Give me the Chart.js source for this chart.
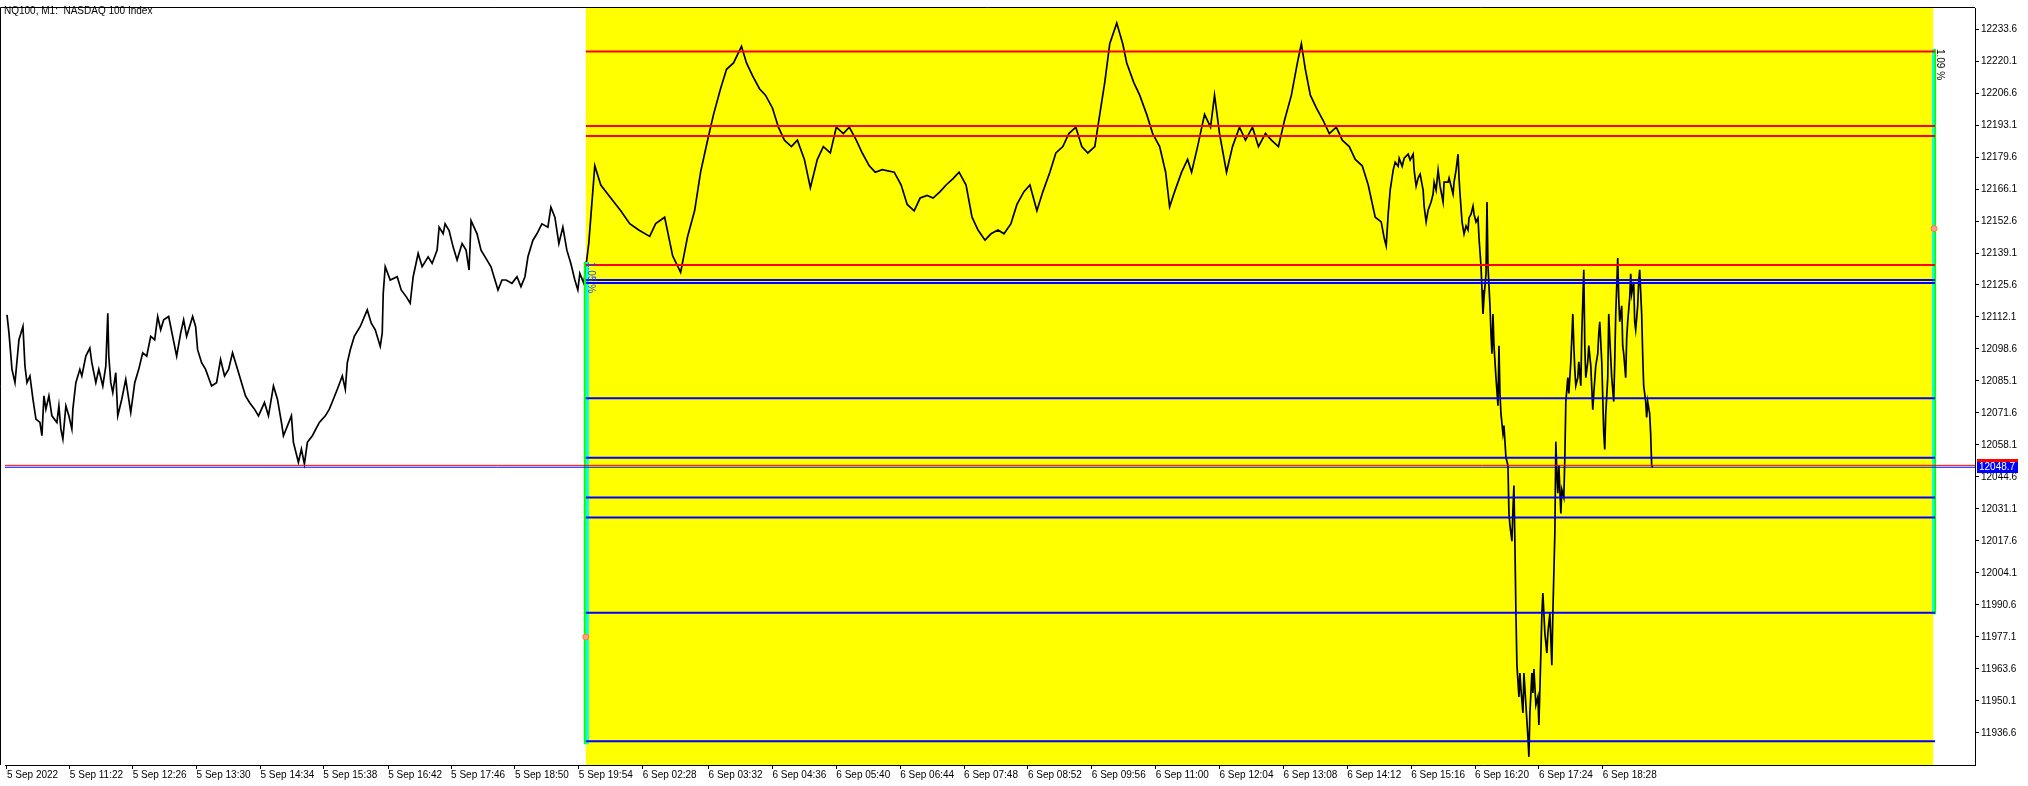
<!DOCTYPE html>
<html>
<head>
<meta charset="utf-8">
<script src="https://cdn.jsdelivr.net/npm/chart.js@4.4.1/dist/chart.umd.min.js"></script>
<style>
  body { margin: 0; background: #fff; }
  #wrap { width: 2028px; height: 786px; position: relative; }
</style>
</head>
<body>
<div id="wrap"><canvas id="chart"></canvas></div>
<script>
'use strict';

// Chart data

let symbolTitle = 'NQ100, M1:  NASDAQ 100 Index';

// bar index (1 bar = 1 minute) and close price
let priceBars = [
  3, 5, 8, 11, 15, 19, 21, 23, 26, 29, 32, 36, 38, 40, 42, 45, 48, 53, 55, 57,
  59, 62, 65, 68, 69, 72, 76, 78, 82, 86, 88, 92, 95, 99, 102, 104, 105, 107, 109, 112,
  114, 118, 122, 127, 131, 135, 139, 143, 147, 151, 154, 157, 160, 165, 169, 173, 177, 180, 183, 189,
  192, 194, 198, 202, 208, 213, 217, 221, 225, 229, 234, 239, 242, 246, 251, 255, 261, 265, 270, 274,
  278, 280, 288, 290, 295, 298, 301, 304, 309, 316, 322, 326, 330, 334, 339, 342, 344, 347, 351, 357,
  364, 368, 372, 377, 379, 380, 382, 387, 394, 398, 403, 407, 410, 415, 419, 425, 429, 434, 436, 440,
  442, 446, 450, 454, 459, 463, 466, 468, 474, 478, 484, 488, 490, 495, 499, 503, 509, 514, 518, 522,
  525, 530, 534, 539, 545, 548, 552, 556, 560, 564, 568, 572, 575, 577, 581,
  586, 592, 598, 608, 618, 627, 636, 647, 653, 662, 670, 678, 685, 692, 698, 705, 711, 718, 724, 731,
  739, 744, 750, 757, 763, 770, 776, 782, 789, 795, 802, 808, 815, 821, 828, 834, 841, 847, 854, 860,
  867, 873, 880, 892, 899, 905, 912, 918, 925, 931, 938, 944, 951, 957, 964, 970, 976, 983, 989, 996,
  1002, 1009, 1015, 1022, 1028, 1035, 1041, 1048, 1054, 1061, 1067, 1074, 1080, 1086, 1093, 1099, 1103, 1108, 1115, 1121,
  1125, 1132, 1138, 1145, 1151, 1158, 1164, 1168, 1173, 1180, 1186, 1190, 1196, 1203, 1209, 1213, 1218, 1225, 1231, 1238,
  1244, 1251, 1257, 1264, 1270, 1277, 1283, 1290, 1296, 1300, 1304, 1309, 1315, 1322, 1328, 1335, 1341, 1348, 1354, 1361,
  1367, 1374,
  1380, 1383, 1385, 1387, 1389, 1392, 1394, 1397, 1398, 1401, 1403, 1407, 1409, 1412, 1413, 1415, 1417, 1419, 1422, 1423,
  1425, 1427, 1430, 1432, 1433, 1435, 1437, 1439, 1442, 1443, 1447, 1448, 1452, 1453, 1455, 1457, 1458, 1459, 1461, 1463,
  1465, 1467, 1468, 1470, 1472, 1473, 1475, 1477, 1478, 1480, 1481, 1482, 1483, 1485, 1486, 1487, 1488, 1489, 1490, 1491,
  1492, 1493, 1495, 1497, 1498, 1499, 1500, 1502, 1503, 1505, 1507, 1508, 1509, 1511, 1512, 1513, 1514, 1515, 1516, 1518,
  1519, 1520, 1522, 1523, 1525, 1527, 1528, 1529, 1531, 1532, 1533, 1535, 1537, 1538, 1539, 1540, 1541, 1542, 1544, 1546,
  1547, 1549, 1551, 1552, 1553, 1554, 1555, 1556, 1557, 1558, 1560, 1561, 1563, 1564, 1565, 1567, 1568, 1570, 1572, 1573,
  1574, 1575, 1577, 1578, 1580, 1581, 1583, 1584, 1585, 1587, 1588, 1590, 1592, 1593, 1595, 1597, 1598, 1599, 1601, 1603,
  1604, 1605, 1607, 1608, 1609, 1611, 1613, 1614, 1615, 1617, 1618, 1619, 1621, 1622, 1623, 1625, 1626, 1627, 1629, 1630,
  1631, 1633, 1634, 1635, 1637, 1638, 1639, 1641, 1642, 1643, 1645, 1646, 1647, 1649, 1650, 1651, 1652
];

let priceClose = [
  12113.0, 12105.3, 12090.0, 12084.4, 12102.5, 12108.1, 12091.4, 12084.4, 12087.2, 12077.4, 12069.0, 12067.6, 12062.0, 12078.8, 12073.2, 12078.8, 12070.4, 12067.6, 12074.6, 12064.8,
  12060.6, 12074.6, 12070.4, 12064.8, 12073.2, 12084.4, 12090.0, 12087.2, 12095.6, 12099.0, 12092.8, 12084.4, 12090.0, 12083.0, 12091.4, 12113.7, 12095.6, 12084.4, 12080.2, 12088.6,
  12070.4, 12077.4, 12085.8, 12071.8, 12084.4, 12090.0, 12097.0, 12095.6, 12103.9, 12102.5, 12112.3, 12106.7, 12110.9, 12112.3, 12103.9, 12095.6, 12105.3, 12110.9, 12103.9, 12112.3,
  12108.1, 12098.3, 12092.8, 12090.0, 12083.0, 12084.4, 12094.2, 12087.2, 12090.0, 12097.0, 12090.0, 12083.0, 12078.8, 12076.0, 12073.2, 12070.4, 12076.0, 12070.4, 12083.0, 12077.4,
  12067.6, 12062.0, 12070.4, 12059.2, 12050.8, 12056.4, 12050.1, 12059.2, 12062.0, 12067.6, 12070.4, 12073.2, 12077.4, 12081.6, 12087.2, 12081.6, 12092.8, 12098.3, 12103.9, 12108.1,
  12115.1, 12109.5, 12106.7, 12099.7, 12105.3, 12122.1, 12133.3, 12127.7, 12129.1, 12123.5, 12120.7, 12117.9, 12129.1, 12138.9, 12133.3, 12137.5, 12134.7, 12140.3, 12150.0, 12147.2,
  12151.4, 12148.6, 12141.7, 12136.1, 12143.1, 12140.3, 12131.9, 12152.8, 12147.2, 12140.3, 12136.1, 12133.3, 12130.5, 12123.5, 12127.7, 12127.7, 12126.3, 12129.1, 12124.9, 12129.1,
  12137.5, 12144.5, 12147.2, 12151.4, 12150.0, 12158.4, 12154.2, 12143.1, 12150.0, 12140.3, 12134.7, 12127.7, 12123.5, 12130.5, 12126.3,
  12143.4, 12175.9, 12167.8, 12162.3, 12156.9, 12151.5, 12148.8, 12146.1, 12151.5, 12154.2, 12137.9, 12130.9, 12146.1, 12156.9, 12173.2, 12186.7, 12197.6, 12208.4, 12216.6, 12219.3,
  12226.3, 12219.3, 12213.9, 12208.4, 12205.7, 12200.3, 12192.2, 12186.7, 12184.0, 12186.7, 12178.6, 12166.7, 12178.6, 12184.0, 12181.3, 12192.2, 12189.5, 12192.2, 12186.7, 12181.3,
  12175.9, 12173.2, 12174.3, 12173.2, 12167.8, 12159.6, 12156.9, 12162.3, 12163.4, 12162.3, 12165.0, 12167.8, 12170.5, 12173.2, 12167.8, 12154.2, 12148.8, 12144.5, 12147.2, 12148.8,
  12147.2, 12151.5, 12159.6, 12165.0, 12167.8, 12156.9, 12165.0, 12173.2, 12181.3, 12184.0, 12189.5, 12192.2, 12184.0, 12181.3, 12184.0, 12200.3, 12211.1, 12227.4, 12236.1, 12227.4,
  12219.3, 12211.1, 12205.7, 12197.6, 12189.5, 12184.0, 12173.2, 12158.6, 12165.0, 12173.2, 12178.6, 12173.2, 12184.0, 12197.6, 12192.2, 12205.7, 12189.5, 12173.2, 12184.0, 12192.2,
  12186.7, 12192.2, 12184.0, 12189.5, 12186.7, 12184.0, 12194.9, 12205.7, 12219.3, 12227.4, 12216.6, 12205.7, 12200.3, 12194.9, 12189.5, 12192.2, 12186.7, 12184.0, 12178.6, 12175.9,
  12167.8, 12154.2,
  12152.2, 12145.4, 12142.1, 12155.5, 12165.6, 12174.1, 12177.4, 12175.7, 12179.1, 12175.7, 12179.1, 12180.8, 12178.3, 12180.8, 12174.1, 12167.3, 12170.7, 12172.4, 12165.6, 12158.9,
  12152.2, 12157.2, 12160.6, 12164.0, 12169.0, 12165.6, 12174.1, 12167.3, 12160.6, 12169.0, 12169.0, 12170.7, 12164.0, 12169.0, 12174.1, 12180.8, 12170.7, 12164.0, 12152.2, 12147.1,
  12150.5, 12148.8, 12153.9, 12155.5, 12158.9, 12155.5, 12152.2, 12153.9, 12145.4, 12133.6, 12123.5, 12113.4, 12120.2, 12130.3, 12160.6, 12133.6, 12125.2, 12116.8, 12105.0, 12096.6,
  12113.4, 12100.0, 12086.5, 12074.7, 12100.0, 12079.8, 12071.3, 12062.9, 12066.3, 12052.8, 12049.5, 12029.2, 12024.2, 12017.5, 12030.9, 12041.0, 12015.8, 11987.1, 11965.2, 11951.8,
  11961.9, 11955.1, 11945.0, 11961.9, 11948.4, 11935.0, 11926.5, 11945.0, 11961.9, 11953.5, 11963.6, 11948.4, 11951.8, 11940.0, 11955.1, 11970.3, 11987.1, 11995.6, 11978.7, 11970.3,
  11978.7, 11987.1, 11965.2, 11987.1, 12004.0, 12020.8, 12059.5, 12046.1, 12037.7, 12049.5, 12029.2, 12039.3, 12036.0, 12052.8, 12076.4, 12086.5, 12079.8, 12093.2, 12113.4, 12100.0,
  12089.9, 12083.1, 12086.5, 12093.2, 12083.1, 12105.0, 12132.0, 12100.0, 12086.5, 12093.2, 12100.0, 12091.5, 12073.0, 12079.8, 12091.5, 12096.6, 12105.0, 12110.1, 12093.2, 12062.9,
  12056.2, 12071.3, 12086.5, 12113.4, 12103.3, 12086.5, 12076.4, 12093.2, 12113.4, 12137.0, 12120.2, 12110.1, 12116.8, 12100.0, 12096.6, 12086.5, 12103.3, 12110.1, 12120.2, 12130.3,
  12121.9, 12126.9, 12110.1, 12106.7, 12116.8, 12126.9, 12132.0, 12113.4, 12096.6, 12083.1, 12076.4, 12069.7, 12076.4, 12071.3, 12062.9, 12049.5, 12048.7
];

// drawn objects (price levels)
let redLevels = [12224.1, 12192.7, 12188.5, 12134.0];
let blueLevels = [12127.7, 12126.4, 12077.8, 12052.7, 12035.9, 12027.5, 11987.3, 11933.1];
let levelBars = [583, 1935];
let zoneBars = [583, 1933];
let askPrice = 12049.5;
let bidPrice = 12048.7;
let leftRange = [12135.3, 11931.8];
let rightRange = [12225.2, 11986.7];
let markerBars = [583, 1934];
let markerPrices = [11977.1, 12149.4];
let rangeLabels = ['1.05 %', '1.09 %'];

// axis ticks
let yTicks = [
  12233.6, 12220.1, 12206.6, 12193.1, 12179.6, 12166.1, 12152.6, 12139.1, 12125.6, 12112.1, 12098.6, 12085.1,
  12071.6, 12058.1, 12044.6, 12031.1, 12017.6, 12004.1, 11990.6, 11977.1, 11963.6, 11950.1, 11936.6
];
let xTickBars = [3, 66, 129, 193, 257, 320, 385, 448, 512, 576, 640, 706, 770, 834, 898, 962, 1026, 1090, 1154, 1218, 1282, 1346, 1410, 1474, 1538, 1602];
let xTickLabels = [
  '5 Sep 2022', '5 Sep 11:22', '5 Sep 12:26', '5 Sep 13:30', '5 Sep 14:34', '5 Sep 15:38', '5 Sep 16:42', '5 Sep 17:46',
  '5 Sep 18:50', '5 Sep 19:54', '6 Sep 02:28', '6 Sep 03:32', '6 Sep 04:36', '6 Sep 05:40', '6 Sep 06:44', '6 Sep 07:48',
  '6 Sep 08:52', '6 Sep 09:56', '6 Sep 11:00', '6 Sep 12:04', '6 Sep 13:08', '6 Sep 14:12', '6 Sep 15:16', '6 Sep 16:20',
  '6 Sep 17:24', '6 Sep 18:28'
];

let yMin = 11923.06;
let yMax = 12242.48;

// Datasets

let font = { family: 'Liberation Sans', size: 10 };
let datasets = [];

function seg(x1, x2, y1, y2) {
  return [{ x: x1, y: y1 }, { x: x2, y: y2 }];
}

datasets.push({ data: seg(1, 1975, bidPrice, bidPrice), borderColor: '#0000ff', borderWidth: 1 });
datasets.push({ data: seg(1, 1975, askPrice, askPrice), borderColor: '#ff0000', borderWidth: 1 });

for (let i = 0; i < redLevels.length; i++) {
  datasets.push({ data: seg(levelBars[0], levelBars[1], redLevels[i], redLevels[i]), borderColor: '#ff0000', borderWidth: 2 });
}
for (let i = 0; i < blueLevels.length; i++) {
  datasets.push({ data: seg(levelBars[0], levelBars[1], blueLevels[i], blueLevels[i]), borderColor: '#0000ff', borderWidth: 2 });
}

datasets.push({
  type: 'scatter',
  data: markerBars.map((b, i) => ({ x: b, y: markerPrices[i] })),
  pointRadius: 3, pointBackgroundColor: '#ff99a8', pointBorderColor: '#ff8000', pointBorderWidth: 1
});

datasets.push({ data: seg(582, 582, leftRange[0], leftRange[1]), borderColor: '#00ff00', borderWidth: 2 });
datasets.push({ data: seg(584.5, 584.5, leftRange[0], leftRange[1]), borderColor: '#00ffff', borderWidth: 3 });
datasets.push({ data: seg(1933, 1933, rightRange[0], rightRange[1]), borderColor: '#00ffff', borderWidth: 2 });
datasets.push({ data: seg(1935, 1935, rightRange[0], rightRange[1]), borderColor: '#00ff00', borderWidth: 2 });

datasets.push({
  data: priceBars.map((b, i) => ({ x: b, y: priceClose[i] })),
  borderColor: '#000000',
  borderWidth: 1.7
});

// Extra drawing: yellow zone, frame, title, labels

let mtPlugin = {
  id: 'mt',
  beforeDatasetsDraw(chart) {
    let c = chart.ctx;
    let a = chart.chartArea;
    let x = chart.scales.x;
    let x1 = x.getPixelForValue(zoneBars[0]);
    let x2 = x.getPixelForValue(zoneBars[1]);
    c.save();
    c.fillStyle = '#ffff00';
    c.fillRect(x1, a.top, x2 - x1, a.bottom - a.top);
    c.restore();
  },
  afterDraw(chart) {
    let c = chart.ctx;
    let a = chart.chartArea;
    let x = chart.scales.x;
    let y = chart.scales.y;
    c.save();

    // frame
    c.strokeStyle = '#000';
    c.lineWidth = 1;
    c.beginPath();
    c.moveTo(0.5, a.bottom);
    c.lineTo(0.5, a.top - 0.5);
    c.lineTo(a.right, a.top - 0.5);
    c.stroke();

    // title
    c.fillStyle = '#000';
    c.font = '10px "Liberation Sans"';
    c.textBaseline = 'middle';
    c.textAlign = 'left';
    c.fillText(symbolTitle, 4, 11);

    // range percentages
    let lx = x.getPixelForValue(588);
    let ly = y.getPixelForValue(leftRange[0]);
    c.save();
    c.translate(lx, ly);
    c.rotate(Math.PI / 2);
    c.fillStyle = '#2244ff';
    c.fillText(rangeLabels[0], 0, 0);
    c.restore();

    let rx = x.getPixelForValue(1940);
    let ry = y.getPixelForValue(rightRange[0]);
    c.save();
    c.translate(rx, ry);
    c.rotate(Math.PI / 2);
    c.fillStyle = '#000';
    c.fillText(rangeLabels[1], 0, 0);
    c.restore();

    // current price label
    let py = Math.round(y.getPixelForValue(bidPrice));
    c.fillStyle = '#ff0000';
    c.fillRect(a.right + 2, py - 8, 41, 3);
    c.fillStyle = '#0000ff';
    c.fillRect(a.right + 2, py - 5, 41, 11);
    c.fillStyle = '#fff';
    c.fillText(bidPrice.toFixed(1), a.right + 4, py + 0.5);

    c.restore();
  }
};

let ctx = document.getElementById('chart').getContext('2d');
let myChart = new Chart(ctx, {
  type: 'line',
  data: { datasets: datasets },
  options: {
    responsive: true,
    maintainAspectRatio: false,
    animation: false,
    layout: { padding: { left: 1, top: 3, right: 0, bottom: 0 } },
    plugins: { legend: { display: false }, tooltip: { enabled: false } },
    elements: { point: { radius: 0 }, line: { tension: 0 } },
    scales: {
      x: {
        type: 'linear',
        position: 'bottom',
        min: 1,
        max: 1975,
        afterBuildTicks: (s) => { s.ticks = xTickBars.map(v => ({ value: v })); },
        afterFit: (s) => { s.height = 21; },
        grid: { drawOnChartArea: false, drawTicks: true, tickLength: 4, color: '#000' },
        border: { display: true, color: '#000', width: 1 },
        ticks: {
          autoSkip: false, maxRotation: 0, minRotation: 0, align: 'start', padding: 0,
          color: '#000', font: font,
          callback: (v, i) => xTickLabels[i]
        }
      },
      y: {
        type: 'linear',
        position: 'right',
        min: yMin,
        max: yMax,
        afterBuildTicks: (s) => { s.ticks = yTicks.map(v => ({ value: v })); },
        afterFit: (s) => { s.width = 53; },
        grid: { drawOnChartArea: false, drawTicks: true, tickLength: 4, color: '#000' },
        border: { display: true, color: '#000', width: 1 },
        ticks: {
          autoSkip: false, padding: 2, color: '#000', font: font,
          callback: (v) => v.toFixed(1)
        }
      }
    }
  },
  plugins: [mtPlugin]
});
</script>
</body>
</html>
